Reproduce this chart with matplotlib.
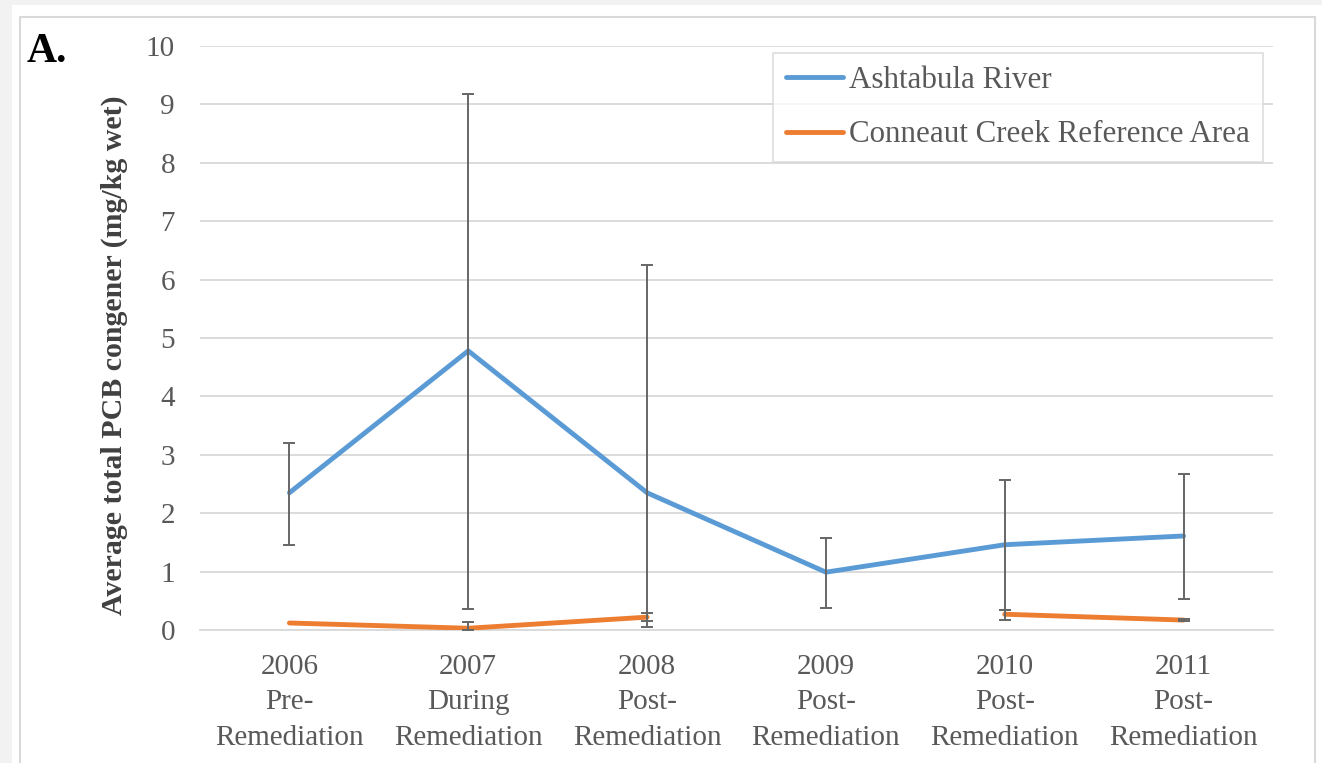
import numpy as np
import matplotlib.pyplot as plt
from matplotlib.patches import Rectangle

# data
categories = ['2006\nPre-\nRemediation', '2007\nDuring\nRemediation', '2008\nPost-\nRemediation',
              '2009\nPost-\nRemediation', '2010\nPost-\nRemediation', '2011\nPost-\nRemediation']
ashtabula = [2.35, 4.78, 2.35, 0.99, 1.46, 1.61]
ashtabula_lo = [1.46, 0.36, 0.05, 0.38, 0.34, 0.53]
ashtabula_hi = [3.20, 9.18, 6.25, 1.58, 2.57, 2.67]
conneaut = [0.12, 0.03, 0.22, np.nan, 0.27, 0.17]
conneaut_lo = [np.nan, 0.0, 0.15, np.nan, 0.17, 0.15]
conneaut_hi = [np.nan, 0.13, 0.29, np.nan, 0.34, 0.19]

blue = '#5B9BD5'
orange = '#ED7D31'
text_grey = '#595959'
grid_grey = '#D9D9D9'

plt.rcParams['font.family'] = ['Liberation Serif', 'DejaVu Serif']

fig = plt.figure(figsize=(13.22, 7.63), dpi=100)
fig.patch.set_facecolor('#F2F2F2')
W, H = 1322, 763
fig.patches.append(Rectangle((12 / W, 0), 1 - 12 / W, 1 - 5 / H, transform=fig.transFigure,
                             facecolor='white', edgecolor='none', zorder=-2))
fig.patches.append(Rectangle((20 / W, -0.01), (1315 - 20) / W, 1 - 17 / H + 0.01, transform=fig.transFigure,
                             facecolor='white', edgecolor=grid_grey, linewidth=1.5, zorder=-1))

ax = fig.add_axes([200 / W, 1 - 630 / H, (1273 - 200) / W, (630 - 46) / H])
ax.set_facecolor('none')
x = np.arange(len(categories))

def err(mean, lo, hi):
    mean, lo, hi = np.array(mean), np.array(lo), np.array(hi)
    return np.vstack([mean - lo, hi - mean])

ax.plot(x, ashtabula, color=blue, lw=3.5, solid_capstyle='round', label='Ashtabula River', zorder=3)
ax.plot(x, conneaut, color=orange, lw=3.5, solid_capstyle='round', label='Conneaut Creek Reference Area', zorder=3)
ax.errorbar(x, ashtabula, yerr=err(ashtabula, ashtabula_lo, ashtabula_hi), fmt='none',
            ecolor='#666666', elinewidth=1.4, capsize=4.5, capthick=1.4, zorder=4)
ax.errorbar(x, conneaut, yerr=err(conneaut, conneaut_lo, conneaut_hi), fmt='none',
            ecolor='#666666', elinewidth=1.4, capsize=4.5, capthick=1.4, zorder=4)

ax.set_xlim(-0.5, len(categories) - 0.5)
ax.set_ylim(0, 10)
ax.set_yticks(range(0, 11))
ax.set_xticks(x)
ax.set_xticklabels(categories, linespacing=1.48)
ax.tick_params(axis='both', length=0, labelsize=21, labelcolor=text_grey)
ax.tick_params(axis='y', pad=18)
ax.tick_params(axis='x', pad=17)
ax.grid(axis='y', color=grid_grey, lw=1.3)
ax.set_axisbelow(True)
for s in ['top', 'right', 'left']:
    ax.spines[s].set_visible(False)
ax.spines['bottom'].set_color(grid_grey)
ax.spines['bottom'].set_linewidth(1.3)

ax.set_ylabel('Average total PCB congener (mg/kg wet)', fontsize=21.5, fontweight='bold',
              color='#404040')
ax.yaxis.set_label_coords((128 - 200) / (1273 - 200), (630 - 355) / (630 - 46))

leg = ax.legend(loc='upper right', bbox_to_anchor=((1263 - 200) / (1273 - 200), (630 - 53) / (630 - 46)),
                fontsize=22.3, frameon=True, fancybox=False, handlelength=1.85, handletextpad=0.2,
                borderpad=0.42, labelspacing=0.82, borderaxespad=0)
leg.get_frame().set_edgecolor(grid_grey)
leg.get_frame().set_linewidth(1.3)
for t in leg.get_texts():
    t.set_color(text_grey)

fig.text(27 / W, 1 - 62 / H, 'A.', fontsize=30, fontweight='bold', color='black')

fig.savefig('out.png', dpi=100, facecolor=fig.get_facecolor())
